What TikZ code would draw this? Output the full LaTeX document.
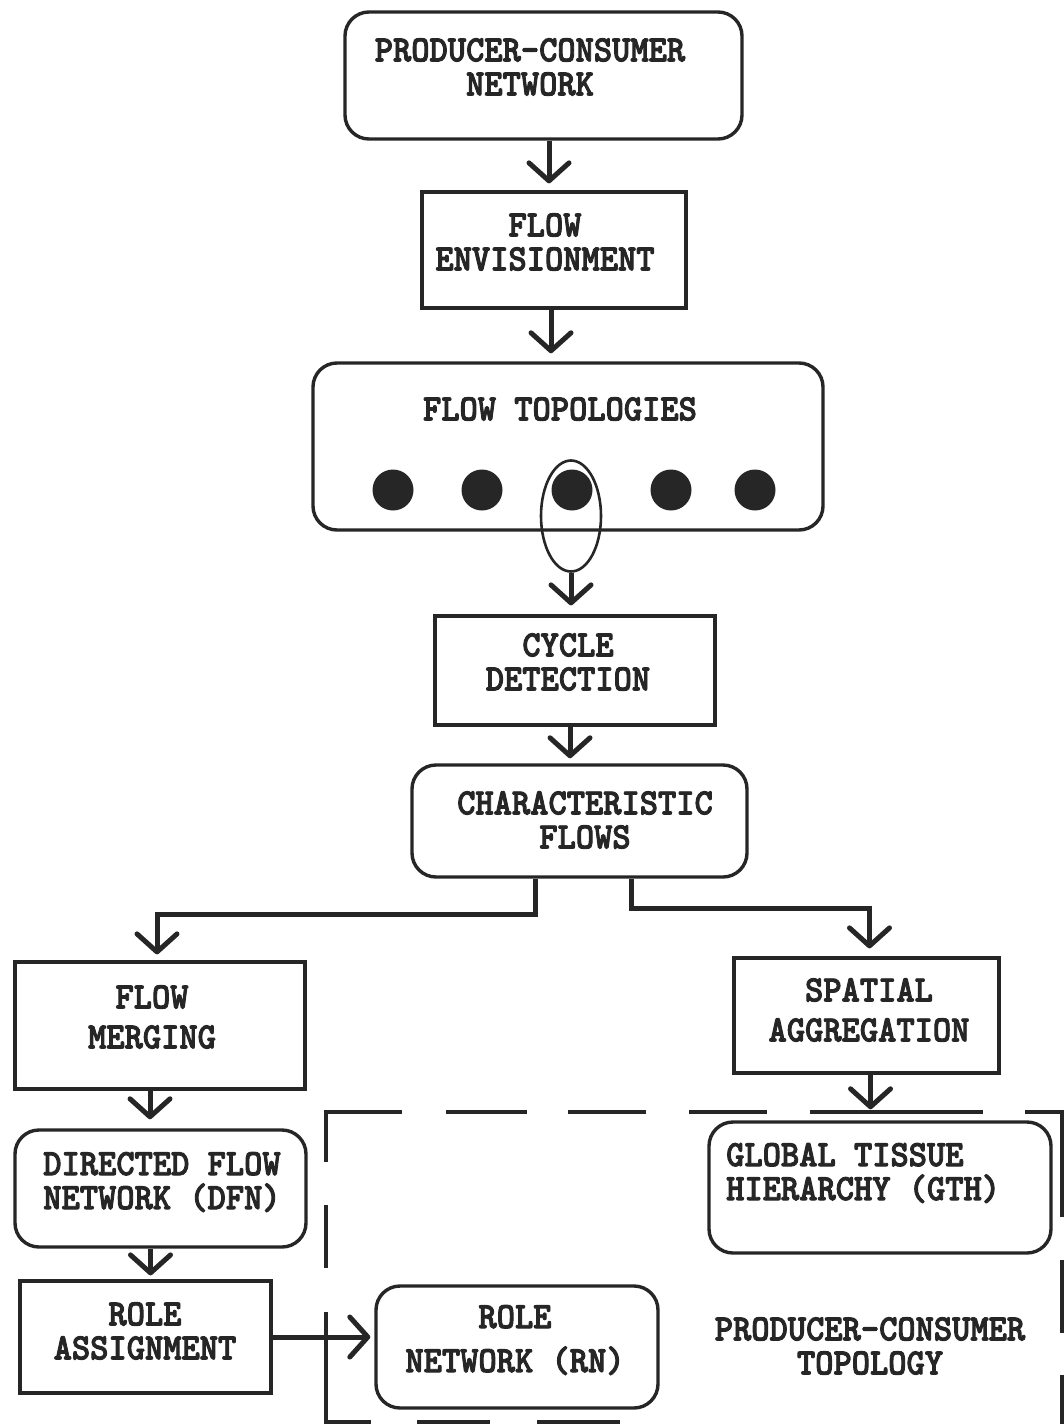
\documentclass[tikz,border=0pt]{standalone}
\usepackage{fontspec}
\newfontfamily\lbfont{lmmonolt10-bold}[Extension=.otf,FakeStretch=0.94,FakeBold=2.5]
\usetikzlibrary{arrows.meta,shapes.geometric}
\definecolor{ink}{HTML}{262626}
\begin{document}
\begin{tikzpicture}[x=1pt,y=-1pt,color=ink,
  rbox/.style={draw=ink,line width=3.4pt,rounded corners=24pt,inner sep=0pt},
  sbox/.style={draw=ink,line width=3.2pt,inner sep=0pt},
  lbl/.style={text=ink,font=\lbfont\fontsize{37}{34}\selectfont,align=center,inner sep=0pt},
  arr/.style={draw=ink,line width=5pt,-{Straight Barb[length=18pt,width=40pt,round]}},
  dsh/.style={draw=ink,line width=4.8pt},
  dot/.style={circle,fill=ink,draw=none,minimum size=41pt,inner sep=0pt}]
\useasboundingbox (0,0) rectangle (1064,1424);

% boxes
\node[rbox,minimum width=397pt,minimum height=127pt] (pcn) at (543.5,75.5) {};
\node[sbox,minimum width=264pt,minimum height=116pt] (fe) at (554,250) {};
\node[rbox,minimum width=510pt,minimum height=167pt] (ft) at (568,446.5) {};
\node[sbox,minimum width=280pt,minimum height=109pt] (cd) at (575,670.5) {};
\node[rbox,minimum width=335pt,minimum height=112pt] (cf) at (579.5,821) {};
\node[sbox,minimum width=290pt,minimum height=127pt] (fm) at (160,1025.5) {};
\node[sbox,minimum width=265pt,minimum height=115pt] (sa) at (866.5,1015.5) {};
\node[rbox,minimum width=291pt,minimum height=117pt] (dfn) at (160.5,1188.5) {};
\node[sbox,minimum width=251pt,minimum height=112pt] (ra) at (145.5,1337) {};
\node[rbox,minimum width=282pt,minimum height=122pt] (rn) at (517,1347) {};
\node[rbox,minimum width=342pt,minimum height=131pt] (gth) at (880,1187.5) {};

% dots and ellipse
\node[dot] (d1) at (393,490) {};
\node[dot] (d2) at (482,490) {};
\node[dot] (d3) at (572,490) {};
\node[dot] (d4) at (671,490) {};
\node[dot] (d5) at (755,490) {};
\node[ellipse,draw=ink,line width=2.6pt,minimum width=60pt,minimum height=111pt,inner sep=0pt] (el) at (571,516) {};

% labels
\node[lbl] (pcnT) at (530,67) {PRODUCER-CONSUMER\\NETWORK};
\node[lbl] (feT) at (545,242) {FLOW\\ENVISIONMENT};
\node[lbl] (ftT) at (560,409) {FLOW TOPOLOGIES};
\node[lbl] (cdT) at (568,662) {CYCLE\\DETECTION};
\node[lbl] (cfT) at (585,820) {CHARACTERISTIC\\FLOWS};
\node[lbl] (fmT) at (152,1017) {FLOW\\[6pt]MERGING};
\node[lbl] (saT) at (869,1010) {SPATIAL\\[6pt]AGGREGATION};
\node[lbl] (dfnT) at (162,1182) {DIRECTED FLOW\\NETWORK (DFN)};
\node[lbl] (raT) at (145,1331) {ROLE\\ASSIGNMENT};
\node[lbl] (rnT) at (515,1340) {ROLE\\[10pt]NETWORK (RN)};
\node[lbl,align=left,anchor=west] (gthT) at (726,1173) {GLOBAL TISSUE\\HIERARCHY (GTH)};
\node[lbl] (pctT) at (870,1346) {PRODUCER-CONSUMER\\TOPOLOGY};

% connectors
\draw[arr,shorten >=7pt] ([xshift=-5pt]fe.north |- pcn.south) -- ([xshift=-5pt]fe.north);
\draw[arr,shorten >=8pt] ([xshift=-3pt]fe.south) -- ([xshift=-3pt]fe.south |- ft.north);
\draw[arr,shorten >=9pt] (el.south) -- (el.south |- cd.north);
\draw[arr,shorten >=5pt] ([xshift=-5pt]cd.south) -- ([xshift=-5pt]cd.south |- cf.north);
\draw[arr,shorten >=6pt] ([xshift=-44pt]cf.south) -- ++(0,36) -| ([xshift=-3pt]fm.north);
\draw[arr,shorten >=8pt] ([xshift=52pt]cf.south) -- ++(0,30) -| ([xshift=3pt]sa.north);
\draw[arr,shorten >=9pt] ([xshift=-10pt]fm.south) -- ([xshift=-10pt]fm.south |- dfn.north);
\draw[arr,shorten >=4pt] ([xshift=-10pt]dfn.south) -- ([xshift=-10pt]dfn.south |- ra.north);
\draw[arr,shorten >=4pt] (ra.east) -- (ra.east -| rn.west);
\draw[arr,shorten >=11pt] ([xshift=4pt]sa.south) -- ([xshift=4pt]sa.south |- gth.north);

% dashed region
\draw[dsh] (402,1112) -- (326,1112) -- (326,1162);
\draw[dsh] (446,1112) -- (527,1112);
\draw[dsh] (568,1112) -- (646,1112);
\draw[dsh] (689,1112) -- (767,1112);
\draw[dsh] (810,1112) -- (983,1112);
\draw[dsh] (1025,1112) -- (1062,1112) -- (1062,1217);
\draw[dsh] (1062,1260) -- (1062,1333);
\draw[dsh] (1062,1375) -- (1062,1424);
\draw[dsh] (326,1205) -- (326,1268);
\draw[dsh] (326,1312) -- (326,1422) -- (371,1422);
\draw[dsh] (417,1422) -- (490,1422);
\draw[dsh] (537,1422) -- (620,1422);
\end{tikzpicture}
\end{document}
